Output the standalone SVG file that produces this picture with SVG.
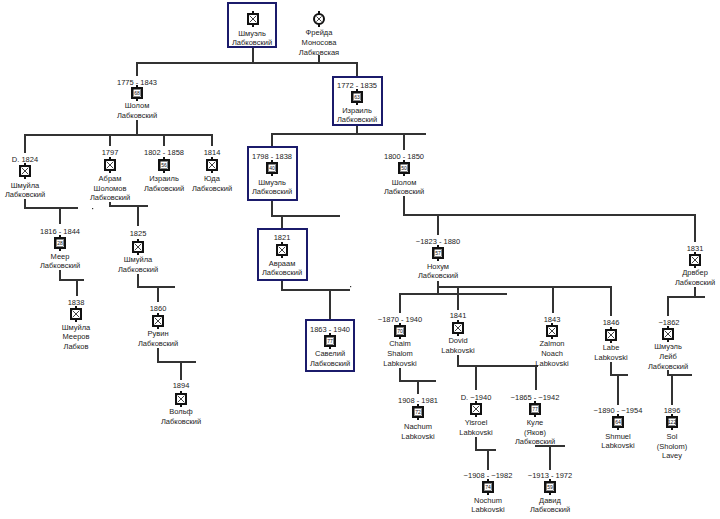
<svg xmlns="http://www.w3.org/2000/svg" xmlns:xlink="http://www.w3.org/1999/xlink" width="720" height="519" viewBox="0 0 720 519">
<style>
text{font-family:"Liberation Sans",Arial,sans-serif;font-size:7.5px;fill:#222;text-anchor:middle}
.n{font-size:5px;fill:#111}
.c line,.c path{stroke:#333;stroke-width:2;fill:none}
.box{fill:#fff;stroke:#1b1b6b;stroke-width:2}
</style>
<defs>
<g id="ix">
<path d="M0,-8V-5M0,5V8" stroke="#111" stroke-width="2"/>
<rect x="-5" y="-5" width="10" height="10" fill="#fff" stroke="#111" stroke-width="2"/>
<path d="M-3.3,-3.3L3.3,3.3M3.3,-3.3L-3.3,3.3" stroke="#111" stroke-width="0.8"/>
</g>
<g id="ia">
<path d="M0,-8V-5M0,5V8" stroke="#111" stroke-width="2"/>
<rect x="-5" y="-5" width="10" height="10" fill="#fff" stroke="#111" stroke-width="2"/>
<rect x="-3.3" y="-3.3" width="6.6" height="6.6" fill="none" stroke="#111" stroke-width="0.5"/>
</g>
<g id="ic">
<path d="M0,-8V-5M0,5V8" stroke="#111" stroke-width="2"/>
<circle r="5" fill="#fff" stroke="#111" stroke-width="2"/>
<path d="M-2.6,-2.6L2.6,2.6M2.6,-2.6L-2.6,2.6" stroke="#111" stroke-width="0.8"/>
</g>
</defs>
<rect width="720" height="519" fill="#fff"/>

<g class="c" id="connectors">
<line x1="253" y1="47" x2="253" y2="63"/>
<line x1="319" y1="55" x2="319" y2="63"/>
<line x1="136" y1="63" x2="358" y2="63"/>
<line x1="137" y1="63" x2="137" y2="76"/>
<line x1="357" y1="63" x2="357" y2="77"/>
<line x1="137" y1="120" x2="137" y2="135"/>
<line x1="24" y1="135" x2="213" y2="135"/>
<line x1="25" y1="135" x2="25" y2="153"/>
<line x1="110" y1="135" x2="110" y2="146"/>
<line x1="164" y1="135" x2="164" y2="146"/>
<line x1="212" y1="135" x2="212" y2="146"/>
<path d="M25,199V208H78M60,208V224"/>
<path d="M60,270V280H84M77,280V296"/>
<path d="M110,202V206H148M138,206V226"/>
<path d="M138,274V287H175M158,287V302"/>
<path d="M158,348V362H196M181,362V380"/>
<path d="M357,125V134M271,134H426M272,134V147M404,134V150"/>
<path d="M272,200V216H340M282,216V229"/>
<path d="M282,280V290H350M330,290V320"/>
<path d="M404,196V215H696M438,215V235M695,215V242"/>
<path d="M438,281V294M437,287H612M399,294H507M400,294V313M458,287V310M553,287V313M611,287V316"/>
<path d="M695,287V297H705M668,296V297H695M668,297V316"/>
<path d="M400,368V381H436M418,381V394"/>
<path d="M458,355V366H538M476,366V390M536,366V390"/>
<path d="M476,437V450H496M488,450V470"/>
<path d="M535,446H565M550,446V470"/>
<path d="M611,362V375H628M618,375V405"/>
<path d="M668,370V375H692M672,375V405"/>
<rect x="92" y="208" width="1.2" height="1.2" fill="#333"/>
<rect x="350" y="286" width="1.2" height="1.2" fill="#333"/>
</g>

<g id="n-shmuel-top">
<rect class="box" x="228" y="3" width="48" height="44"/>
<use href="#ix" x="253" y="19"/>
<text x="252" y="36">Шмуэль</text>
<text x="252" y="45">Лабковский</text>
</g>
<g id="n-freyda">
<use href="#ic" x="319" y="19"/>
<text x="319" y="35">Фрейда</text>
<text x="319" y="45">Моносова</text>
<text x="319" y="55">Лабковская</text>
</g>
<g id="n-sholom-1775">
<text x="137" y="85">1775 - 1843</text>
<use href="#ia" x="137" y="93"/><text class="n" x="137" y="94.8">68</text>
<text x="137" y="108">Шолом</text>
<text x="137" y="118">Лабковский</text>
</g>
<g id="n-israel-1772">
<rect class="box" x="333" y="77" width="49" height="48"/>
<text x="357" y="88">1772 - 1835</text>
<use href="#ia" x="357" y="97"/><text class="n" x="357" y="98.8">63</text>
<text x="357" y="113">Израиль</text>
<text x="357" y="122">Лабковский</text>
</g>
<g id="n-shmuila-1824">
<text x="25" y="162">D. 1824</text>
<use href="#ix" x="25" y="171"/>
<text x="25" y="188">Шмуйла</text>
<text x="25" y="197">Лабковский</text>
</g>
<g id="n-abram">
<text x="110" y="155">1797</text>
<use href="#ix" x="110" y="165"/>
<text x="110" y="181">Абрам</text>
<text x="110" y="191">Шоломов</text>
<text x="110" y="200">Лабковский</text>
</g>
<g id="n-israel-1802">
<text x="164" y="155">1802 - 1858</text>
<use href="#ia" x="164" y="165"/><text class="n" x="164" y="166.8">56</text>
<text x="164" y="181">Израиль</text>
<text x="164" y="191">Лабковский</text>
</g>
<g id="n-yuda">
<text x="212" y="155">1814</text>
<use href="#ix" x="212" y="165"/>
<text x="212" y="181">Юда</text>
<text x="212" y="191">Лабковский</text>
</g>
<g id="n-meer">
<text x="60" y="234">1816 - 1844</text>
<use href="#ia" x="60" y="243"/><text class="n" x="60" y="244.8">28</text>
<text x="60" y="259">Меер</text>
<text x="60" y="268">Лабковский</text>
</g>
<g id="n-shmuila-meerov">
<text x="76" y="305">1838</text>
<use href="#ix" x="76" y="314"/>
<text x="76" y="330">Шмуйла</text>
<text x="76" y="339">Мееров</text>
<text x="76" y="349">Лабков</text>
</g>
<g id="n-shmuila-1825">
<text x="138" y="236">1825</text>
<use href="#ix" x="138" y="247"/>
<text x="138" y="262">Шмуйла</text>
<text x="138" y="272">Лабковский</text>
</g>
<g id="n-ruvin">
<text x="158" y="311">1860</text>
<use href="#ix" x="158" y="321"/>
<text x="158" y="336">Рувин</text>
<text x="158" y="346">Лабковский</text>
</g>
<g id="n-volf">
<text x="181" y="388">1894</text>
<use href="#ix" x="181" y="399"/>
<text x="181" y="414">Вольф</text>
<text x="181" y="424">Лабковский</text>
</g>
<g id="n-shmuel-1798">
<rect class="box" x="248" y="147" width="49" height="53"/>
<text x="272" y="159">1798 - 1838</text>
<use href="#ia" x="272" y="168"/><text class="n" x="272" y="169.8">40</text>
<text x="272" y="185">Шмуэль</text>
<text x="272" y="194">Лабковский</text>
</g>
<g id="n-sholom-1800">
<text x="404" y="159">1800 - 1850</text>
<use href="#ia" x="404" y="168"/><text class="n" x="404" y="169.8">50</text>
<text x="404" y="185">Шолом</text>
<text x="404" y="194">Лабковский</text>
</g>
<g id="n-avraam">
<rect class="box" x="258" y="229" width="49" height="51"/>
<text x="282" y="240">1821</text>
<use href="#ix" x="282" y="250"/>
<text x="282" y="266">Авраам</text>
<text x="282" y="275">Лабковский</text>
</g>
<g id="n-saveliy">
<rect class="box" x="306" y="320" width="48" height="51"/>
<text x="330" y="332">1863 - 1940</text>
<use href="#ia" x="330" y="341"/><text class="n" x="330" y="342.8">77</text>
<text x="330" y="356">Савелий</text>
<text x="330" y="366">Лабковский</text>
</g>
<g id="n-nokhum">
<text x="438" y="244">~1823 - 1880</text>
<use href="#ia" x="438" y="253"/><text class="n" x="438" y="254.8">57</text>
<text x="438" y="269">Нохум</text>
<text x="438" y="278">Лабковский</text>
</g>
<g id="n-drvber">
<text x="695" y="251">1831</text>
<use href="#ix" x="695" y="260"/>
<text x="695" y="275">Дрвбер</text>
<text x="695" y="285">Лабковский</text>
</g>
<g id="n-chaim">
<text x="400" y="322">~1870 - 1940</text>
<use href="#ia" x="400" y="331"/><text class="n" x="400" y="332.8">70</text>
<text x="400" y="346">Chaim</text>
<text x="400" y="356">Shalom</text>
<text x="400" y="366">Labkovski</text>
</g>
<g id="n-dovid">
<text x="458" y="318">1841</text>
<use href="#ix" x="458" y="328"/>
<text x="458" y="343">Dovid</text>
<text x="458" y="353">Labkovski</text>
</g>
<g id="n-zalmon">
<text x="552" y="322">1843</text>
<use href="#ix" x="552" y="331"/>
<text x="552" y="346">Zalmon</text>
<text x="552" y="356">Noach</text>
<text x="552" y="366">Labkovski</text>
</g>
<g id="n-labe">
<text x="611" y="325">1846</text>
<use href="#ix" x="611" y="335"/>
<text x="611" y="350">Labe</text>
<text x="611" y="360">Labkovski</text>
</g>
<g id="n-shmuel-leib">
<text x="669" y="325">~1862</text>
<use href="#ix" x="668" y="334"/>
<text x="668" y="349">Шмуэль</text>
<text x="668" y="359">Лейб</text>
<text x="668" y="369">Лабковский</text>
</g>
<g id="n-nachum">
<text x="418" y="403">1908 - 1981</text>
<use href="#ia" x="418" y="412"/><text class="n" x="418" y="413.8">72</text>
<text x="418" y="429">Nachum</text>
<text x="418" y="439">Labkovski</text>
</g>
<g id="n-yisroel">
<text x="476" y="400">D. ~1940</text>
<use href="#ix" x="476" y="409"/>
<text x="476" y="425">Yisroel</text>
<text x="476" y="435">Labkovski</text>
</g>
<g id="n-kule">
<text x="535" y="400">~1865 - ~1942</text>
<use href="#ia" x="535" y="409"/><text class="n" x="535" y="410.8">77</text>
<text x="535" y="425">Куле</text>
<text x="535" y="435">(Яков)</text>
<text x="535" y="444">Лабковский</text>
</g>
<g id="n-nochum">
<text x="488" y="478">~1908 - ~1982</text>
<use href="#ia" x="488" y="487"/><text class="n" x="488" y="488.8">74</text>
<text x="488" y="503">Nochum</text>
<text x="488" y="512">Labkovski</text>
</g>
<g id="n-david">
<text x="550" y="478">~1913 - 1972</text>
<use href="#ia" x="550" y="487"/><text class="n" x="550" y="488.8">59</text>
<text x="550" y="503">Давид</text>
<text x="550" y="512">Лабковский</text>
</g>
<g id="n-shmuel-1890">
<text x="618" y="413">~1890 - ~1954</text>
<use href="#ia" x="618" y="422"/><text class="n" x="618" y="423.8">64</text>
<text x="618" y="439">Shmuel</text>
<text x="618" y="448">Labkovski</text>
</g>
<g id="n-sol">
<text x="672" y="413">1896</text>
<use href="#ia" x="672" y="422"/><text class="n" x="672" y="423.8">122</text>
<text x="672" y="439">Sol</text>
<text x="672" y="449">(Sholom)</text>
<text x="672" y="458">Lavey</text>
</g>
</svg>
